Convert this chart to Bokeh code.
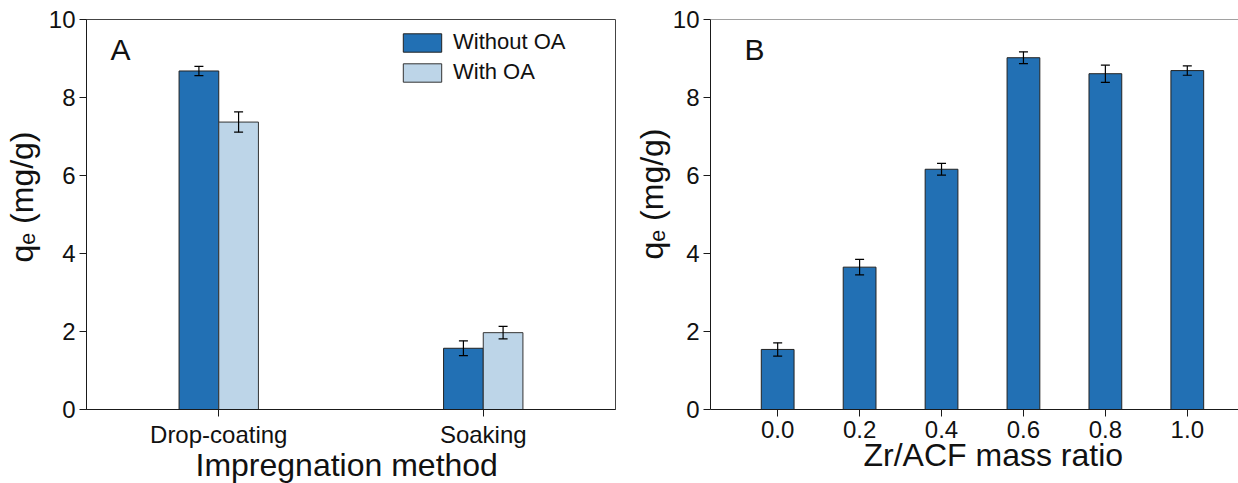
from bokeh.plotting import figure
from bokeh.models import (ColumnDataSource, FactorRange, Range1d, FixedTicker, Whisker, TeeHead,
                          Legend, LegendItem, Label, Span, Title, PrintfTickFormatter)
from bokeh.transform import dodge
from bokeh.layouts import row
from bokeh.embed import file_html
from bokeh.resources import INLINE

# ---------------- data ----------------
methods = ["Drop-coating", "Soaking"]
without_oa = [8.68, 1.57]
without_oa_err = [0.12, 0.19]
with_oa = [7.37, 1.97]
with_oa_err = [0.26, 0.16]

ratios = [0.0, 0.2, 0.4, 0.6, 0.8, 1.0]
qe_ratio = [1.54, 3.65, 6.16, 9.02, 8.61, 8.69]
qe_ratio_err = [0.17, 0.20, 0.15, 0.15, 0.22, 0.12]

y_ticks = [0, 2, 4, 6, 8, 10]

x_title_a = "Impregnation method"
x_title_b = "Zr/ACF mass ratio"
y_title = "q\u2091 (mg/g)"

# ---------------- style ----------------
FONT = "Liberation Sans"
DARK = "#2270b4"
LIGHT = "#bdd5e8"
EDGE = "#222222"
AX = "#1a1a1a"
TICK_FS = "24px"
TITLE_FS = "32px"


def style_axes(p):
    p.xgrid.visible = False
    p.ygrid.visible = False
    for ax in (p.xaxis[0], p.yaxis[0]):
        ax.axis_line_color = AX
        ax.axis_line_width = 1
        ax.major_tick_line_color = AX
        ax.major_tick_in = 0
        ax.major_tick_out = 7
        ax.minor_tick_line_color = None
        ax.major_label_text_font = FONT
        ax.major_label_text_font_size = TICK_FS
        ax.major_label_text_color = "#111111"
        ax.axis_label = None
    p.xaxis[0].major_label_standoff = 4
    p.yaxis[0].major_label_standoff = 4
    p.yaxis[0].ticker = FixedTicker(ticks=y_ticks)
    p.background_fill_color = "white"
    p.border_fill_color = "white"


def title(p, text, side, offset, valign, standoff):
    p.add_layout(Title(text=text, text_font=FONT, text_font_size=TITLE_FS,
                       text_font_style="normal", text_color="#111111",
                       align="left", vertical_align=valign, offset=offset,
                       standoff=standoff), side)


def letter(p, x, y, text):
    p.add_layout(Label(x=x, y=y, x_units="screen", y_units="screen", text=text,
                       text_font=FONT, text_font_size="30px", text_color="#111111",
                       text_align="left", text_baseline="alphabetic"))


def whisker(src, base, up, lo):
    w = Whisker(source=src, base=base, upper=up, lower=lo,
                line_color="black", line_width=1.2,
                upper_head=TeeHead(size=9, line_color="black", line_width=1.2),
                lower_head=TeeHead(size=9, line_color="black", line_width=1.2))
    w.level = "overlay"
    return w


# ---------------- panel A ----------------
src1 = ColumnDataSource(dict(
    method=methods,
    without=without_oa,
    with_=with_oa,
    wo_up=[v + e for v, e in zip(without_oa, without_oa_err)],
    wo_lo=[v - e for v, e in zip(without_oa, without_oa_err)],
    w_up=[v + e for v, e in zip(with_oa, with_oa_err)],
    w_lo=[v - e for v, e in zip(with_oa, with_oa_err)],
))

p1 = figure(x_range=FactorRange(factors=methods), y_range=Range1d(0, 10),
            width=630, height=483, output_backend="svg", toolbar_location=None,
            min_border_left=83, min_border_right=15, min_border_top=19, min_border_bottom=74)
p1.outline_line_color = "#444444"
p1.outline_line_width = 1
style_axes(p1)

bw = 0.15
r_wo = p1.vbar(x=dodge("method", -bw / 2, range=p1.x_range), top="without", bottom=0, width=bw,
               fill_color=DARK, line_color=EDGE, line_width=1, source=src1)
r_w = p1.vbar(x=dodge("method", bw / 2, range=p1.x_range), top="with_", bottom=0, width=bw,
              fill_color=LIGHT, line_color="#333333", line_width=1, source=src1)
p1.add_layout(whisker(src1, dodge("method", -bw / 2, range=p1.x_range), "wo_up", "wo_lo"))
p1.add_layout(whisker(src1, dodge("method", bw / 2, range=p1.x_range), "w_up", "w_lo"))

legend = Legend(items=[LegendItem(label="Without OA", renderers=[r_wo]),
                       LegendItem(label="With OA", renderers=[r_w])],
                location=(312, 324), glyph_width=48, glyph_height=23, label_height=23,
                label_standoff=7, spacing=4, padding=0, margin=0,
                border_line_color=None, background_fill_alpha=0,
                label_text_font=FONT, label_text_font_size="22px", label_text_color="#111111")
p1.add_layout(legend)

letter(p1, 24, 360, "A")
title(p1, x_title_a, "below", 109, "bottom", -11)
title(p1, y_title, "left", 147, "top", 7)

# ---------------- panel B ----------------
src2 = ColumnDataSource(dict(
    ratio=ratios,
    qe=qe_ratio,
    up=[v + e for v, e in zip(qe_ratio, qe_ratio_err)],
    lo=[v - e for v, e in zip(qe_ratio, qe_ratio_err)],
))

p2 = figure(x_range=Range1d(-0.164, 1.125), y_range=Range1d(0, 10),
            width=608, height=483, output_backend="svg", toolbar_location=None,
            min_border_left=80, min_border_right=0, min_border_top=19, min_border_bottom=74)
p2.outline_line_color = None
style_axes(p2)
p2.xaxis[0].ticker = FixedTicker(ticks=ratios)
p2.xaxis[0].formatter = PrintfTickFormatter(format="%.1f")
p2.add_layout(Span(location=10, dimension="width", line_color="#444444", line_width=1))

p2.vbar(x="ratio", top="qe", bottom=0, width=0.08, fill_color=DARK, line_color=EDGE,
        line_width=1, source=src2)
p2.add_layout(whisker(src2, "ratio", "up", "lo"))

letter(p2, 34, 360, "B")
title(p2, x_title_b, "below", 153, "bottom", -11)
title(p2, y_title, "left", 150, "bottom", 0)

layout = row(p1, p2)
open("out.html", "w").write(file_html(layout, INLINE))
